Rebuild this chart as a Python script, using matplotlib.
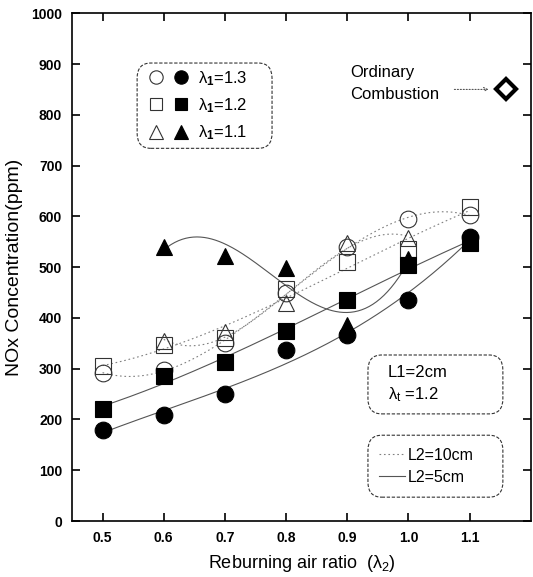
import numpy as np
import matplotlib
matplotlib.use("Agg")
import matplotlib.pyplot as plt
from matplotlib.lines import Line2D
from matplotlib.patches import FancyBboxPatch
from matplotlib.legend_handler import HandlerTuple

plt.rcParams['font.family'] = ['Liberation Sans', 'DejaVu Sans']
plt.rcParams['mathtext.fontset'] = 'custom'
plt.rcParams['mathtext.rm'] = 'Liberation Sans'
plt.rcParams['mathtext.it'] = 'Liberation Sans'
plt.rcParams['mathtext.bf'] = 'Liberation Sans:bold'

# Reburning air ratio (lambda_2)
air_ratio = [0.5, 0.6, 0.7, 0.8, 0.9, 1.0, 1.1]
air_ratio_tri = [0.6, 0.7, 0.8, 0.9, 1.0]

# NOx (ppm); "10" = L2=10cm (open), "5" = L2=5cm (filled)
nox_l13_10 = [292, 298, 351, 450, 540, 594, 603]
nox_l13_5 = [179, 209, 250, 336, 367, 436, 560]
nox_l12_10 = [306, 347, 360, 457, 511, 535, 619]
nox_l12_5 = [221, 285, 314, 375, 436, 505, 548]
nox_l11_10 = [355, 373, 430, 548, 558]
nox_l11_5 = [540, 522, 499, 387, 517]

ordinary_x = 1.16
ordinary_nox = 850

y_ticks = [0, 100, 200, 300, 400, 500, 600, 700, 800, 900, 1000]
x_ticks = [0.5, 0.6, 0.7, 0.8, 0.9, 1.0, 1.1]

fig = plt.figure(figsize=(5.33, 5.77), dpi=100)
ax = fig.add_axes([0.135, 0.097, 0.861, 0.880])


def trend(x, y, deg=3):
    coef = np.polyfit(x, y, deg)
    xs = np.linspace(min(x), max(x), 200)
    return xs, np.polyval(coef, xs)


solid_kw = dict(color='#555555', lw=0.8, ls='-', zorder=1)
dot_kw = dict(color='#808080', lw=0.8, ls=(0, (1.5, 2.5)), zorder=1)

# trend curves
for xv, yv in [(air_ratio, nox_l13_10), (air_ratio, nox_l12_10), (air_ratio_tri, nox_l11_10)]:
    ax.plot(*trend(xv, yv), **dot_kw)
for xv, yv in [(air_ratio, nox_l13_5), (air_ratio, nox_l12_5), (air_ratio_tri, nox_l11_5)]:
    ax.plot(*trend(xv, yv), **solid_kw)

open_kw = dict(ls='none', mfc='none', mec='#333333', mew=0.8, zorder=3)
fill_kw = dict(ls='none', mfc='black', mec='black', mew=0.8, zorder=4)

o13, = ax.plot(air_ratio, nox_l13_10, marker='o', ms=12, **open_kw)
o12, = ax.plot(air_ratio, nox_l12_10, marker='s', ms=11, **open_kw)
o11, = ax.plot(air_ratio_tri, nox_l11_10, marker='^', ms=12, **open_kw)
f13, = ax.plot(air_ratio, nox_l13_5, marker='o', ms=12, **fill_kw)
f12, = ax.plot(air_ratio, nox_l12_5, marker='s', ms=11, **fill_kw)
f11, = ax.plot(air_ratio_tri, nox_l11_5, marker='^', ms=12, **fill_kw)

ax.plot([ordinary_x], [ordinary_nox], marker='D', ms=10.5, mfc='white', mec='black',
        mew=3.0, ls='none', zorder=5)
ax.annotate('', xy=(ordinary_x - 0.029, ordinary_nox), xytext=(ordinary_x - 0.085, ordinary_nox),
            arrowprops=dict(arrowstyle='->', color='#555555', lw=0.8, ls=':', shrinkA=0, shrinkB=0,
                            mutation_scale=7))
ax.text(0.904, 884, 'Ordinary', fontsize=12, ha='left', va='center')
ax.text(0.904, 840, 'Combustion', fontsize=12, ha='left', va='center')

ax.set_xlim(0.45, 1.2)
ax.set_ylim(0, 1000)
ax.set_xticks(x_ticks)
ax.set_xticklabels([f'{v:.1f}' for v in x_ticks])
ax.set_yticks(y_ticks)
ax.tick_params(direction='in', length=6, width=1.2, top=True, right=True,
               labelsize=10, pad=7)
for lab in ax.get_xticklabels() + ax.get_yticklabels():
    lab.set_fontweight('bold')
for sp in ax.spines.values():
    sp.set_linewidth(1.2)

ax.set_xlabel('Reburning air ratio  (λ$_2$)', fontsize=13, labelpad=6)
ax.set_ylabel('NOx Concentration(ppm)', fontsize=14, labelpad=6)


def frame(x0, y0, w, h):
    ax.add_patch(FancyBboxPatch((x0, y0), w, h, boxstyle='round,pad=0,rounding_size=0.03',
                                transform=ax.transAxes, fc='white', ec='#333333', lw=0.8,
                                ls=(0, (3, 1.5)), zorder=6))


# marker key box
frame(0.142, 0.734, 0.294, 0.168)
leg1 = ax.legend([(o13, f13), (o12, f12), (o11, f11)],
                 ['λ$_\\mathbf{1}$=1.3', 'λ$_\\mathbf{1}$=1.2', 'λ$_\\mathbf{1}$=1.1'],
                 handler_map={tuple: HandlerTuple(ndivide=None, pad=0)},
                 loc='center left', bbox_to_anchor=(0.155, 0.818), borderaxespad=0,
                 borderpad=0, frameon=False, fontsize=12, numpoints=1,
                 handlelength=3.0, handletextpad=0.3, labelspacing=0.5, markerscale=0.8)
leg1.set_zorder(7)
ax.add_artist(leg1)

# condition box
frame(0.645, 0.211, 0.294, 0.116)
ax.text(0.688, 0.293, 'L1=2cm', transform=ax.transAxes, fontsize=12, va='center', zorder=7)
ax.text(0.688, 0.248, 'λ$_t$ =1.2', transform=ax.transAxes, fontsize=12, va='center', zorder=7)

# line style box
frame(0.645, 0.047, 0.294, 0.122)
leg3 = ax.legend([Line2D([], [], **dot_kw), Line2D([], [], **solid_kw)],
                 ['L2=10cm', 'L2=5cm'], loc='center left', bbox_to_anchor=(0.67, 0.108),
                 borderaxespad=0, borderpad=0, frameon=False, fontsize=11.5,
                 handlelength=1.6, handletextpad=0.15, labelspacing=0.45)
leg3.set_zorder(7)

fig.savefig('out.png', dpi=100)
